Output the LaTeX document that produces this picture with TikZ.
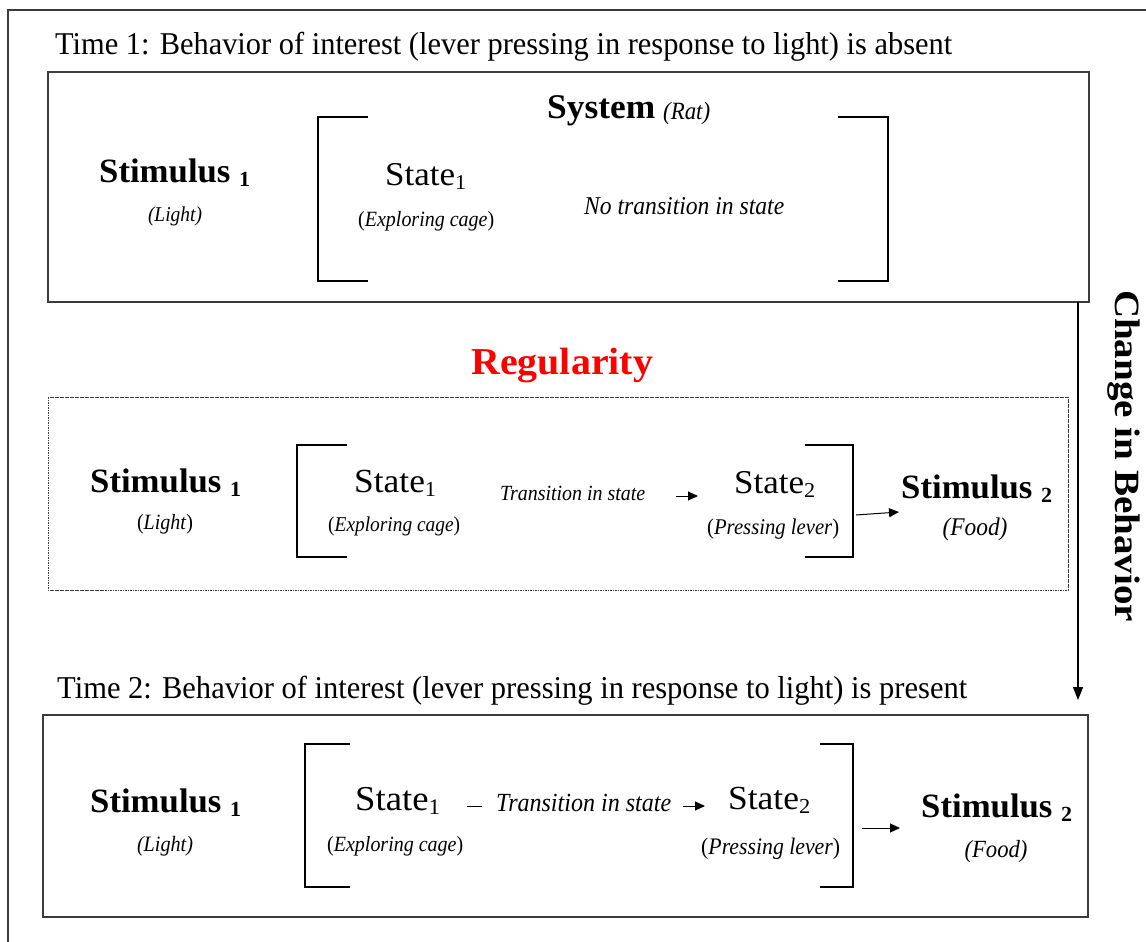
\documentclass[tikz,border=0pt]{standalone}
\usepackage{fontspec}
\setmainfont{Liberation Serif}
\usepackage{graphicx}
\usetikzlibrary{arrows.meta}

% set text to a given width (in pt) with a horizontal stretch factor
\newcommand{\fitw}[3]{\resizebox{#1pt}{!}{\scalebox{#2}[1]{#3}}}
\newcommand{\stim}[1]{\bfseries Stimulus\hspace{0.25em}\raisebox{-0.12em}{\fontsize{19}{19}\selectfont #1}}
\newcommand{\stt}[1]{State\raisebox{-0.14em}{\fontsize{19}{19}\selectfont #1}}

\definecolor{framegray}{HTML}{3C3C3C}
\definecolor{regred}{HTML}{FF0000}

\begin{document}
\begin{tikzpicture}[x=1pt,y=-1pt,
  txt/.style={inner sep=0pt, anchor=base west, font=\fontsize{30}{36}\selectfont},
  txtc/.style={inner sep=0pt, anchor=base, font=\fontsize{30}{36}\selectfont},
  boxline/.style={draw=framegray, line width=1.3pt},
  dashbox/.style={draw=framegray, line width=0.9pt, dash pattern=on 1.6pt off 0.9pt},
  brk/.style={draw=black, line width=2.6pt},
  arr/.style={draw=black, line width=1pt, -{Triangle[length=10pt,width=9pt]}},
  bigarr/.style={draw=black, line width=1.5pt, -{Triangle[length=13pt,width=10pt]}}]
\useasboundingbox (0,0) rectangle (1146,942);

% outer frame (left and top edges)
\draw[boxline] (8,942) -- (8,10) -- (1146,10);

% ---------- Time 1 ----------
\node[txt] (t1) at (55,55) {\fitw{897}{0.96}{Time 1: Behavior of interest (lever pressing in response to light) is absent}};
\draw[boxline] (48,72) rectangle (1089,302);
\coordinate (box1bot) at (1078,302);

\node[txt] (sys) at (547,118) {\fitw{108}{1.02}{\bfseries System}};
\node[txt] (rat) at (663,119) {\fitw{47}{0.92}{\itshape (Rat)}};

\node[txt] (s11) at (99,182) {\fitw{151}{1.02}{\stim{1}}};
\node[txtc] (l1) at (175,221) {\fitw{54}{0.92}{\itshape (Light)}};

\draw[brk] (368,117) -- (318,117) -- (318,281) -- (368,281);
\draw[brk] (838,117) -- (888,117) -- (888,281) -- (838,281);

\node[txt] (st11) at (385,185) {\fitw{81}{1.05}{\stt{1}}};
\node[txt] (ec1) at (358,226) {\fitw{136}{0.92}{(\textit{Exploring cage})}};
\node[txt] (nt) at (584,214) {\fitw{200}{0.92}{\itshape No transition in state}};

% ---------- Regularity ----------
\node[txt] (reg) at (471,374) {\fitw{182}{1.05}{\bfseries\color{regred}Regularity}};
\draw[dashbox] (48,397) rectangle (1068,590);

\node[txt] (s12) at (90,492) {\fitw{151}{1.02}{\stim{1}}};
\node[txtc] (l2) at (165,529) {\fitw{56}{0.92}{(\textit{Light})}};

\draw[brk] (347,445) -- (297,445) -- (297,557) -- (347,557);
\draw[brk] (805,445) -- (853,445) -- (853,557) -- (805,557);

\node[txt] (st12) at (354,492) {\fitw{82}{1.05}{\stt{1}}};
\node[txt] (ec2) at (328,531) {\fitw{132}{0.92}{(\textit{Exploring cage})}};
\node[txt] (tr2) at (500,500) {\fitw{145}{0.92}{\itshape Transition in state}};
\coordinate (a2s) at (676,496);
\coordinate (a2e) at (698,496);
\draw[arr] (a2s) -- (a2e);
\node[txt] (st22) at (734,493) {\fitw{81}{1.05}{\stt{2}}};
\node[txt] (pl2) at (707,534) {\fitw{132}{0.92}{(\textit{Pressing lever})}};

\coordinate (b2out) at (856,515);
\coordinate (b2in) at (899,512);
\draw[arr] (b2out) -- (b2in);
\node[txt] (s22) at (901,498) {\fitw{151}{1.02}{\stim{2}}};
\node[txtc] (f2) at (975,535) {\fitw{65}{0.92}{\itshape (Food)}};

% ---------- Time 2 ----------
\node[txt] (t2) at (57,698) {\fitw{910}{0.96}{Time 2: Behavior of interest (lever pressing in response to light) is present}};
\draw[boxline] (43,715) rectangle (1088,917);

\node[txt] (s13) at (90,812) {\fitw{151}{1.02}{\stim{1}}};
\node[txtc] (l3) at (165,851) {\fitw{56}{0.92}{\itshape (Light)}};

\draw[brk] (350,744) -- (305,744) -- (305,887) -- (350,887);
\draw[brk] (820,744) -- (853,744) -- (853,887) -- (820,887);

\node[txt] (st13) at (355,810) {\fitw{85}{1.05}{\stt{1}}};
\node[txt] (ec3) at (327,851) {\fitw{136}{0.92}{(\textit{Exploring cage})}};
\coordinate (d3s) at (467,806);
\coordinate (d3e) at (482,806);
\draw[line width=1pt] (d3s) -- (d3e);
\node[txt] (tr3) at (496,811) {\fitw{175}{0.92}{\itshape Transition in state}};
\coordinate (a3s) at (683,806);
\coordinate (a3e) at (705,806);
\draw[arr] (a3s) -- (a3e);
\node[txt] (st23) at (728,809) {\fitw{82}{1.05}{\stt{2}}};
\node[txt] (pl3) at (701,854) {\fitw{139}{0.92}{(\textit{Pressing lever})}};

\coordinate (b3out) at (862,828);
\coordinate (b3in) at (900,828);
\draw[arr] (b3out) -- (b3in);
\node[txt] (s23) at (921,817) {\fitw{151}{1.02}{\stim{2}}};
\node[txtc] (f3) at (996,857) {\fitw{63}{0.92}{\itshape (Food)}};

% ---------- change in behaviour ----------
\coordinate (cbend) at (1078,700);
\draw[bigarr] (box1bot) -- (cbend);
\node[inner sep=0pt, rotate=-90, font=\fontsize{30}{36}\selectfont] (chg) at (1124,456) {\fitw{332}{1.1}{\bfseries Change in Behavior}};
\end{tikzpicture}
\end{document}
